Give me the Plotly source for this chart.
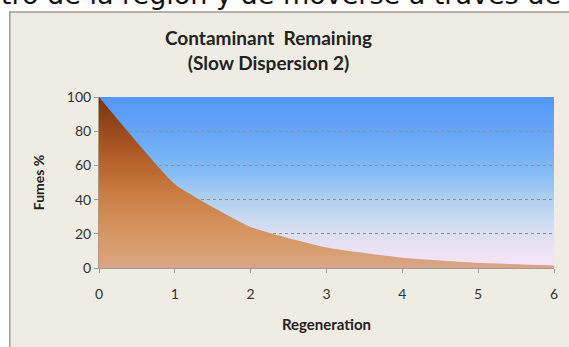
import base64
import plotly.graph_objects as go

# Contaminant remaining after each regeneration cycle
regeneration = [0, 1, 2, 3, 4, 5, 6]
fumes_pct = [100, 49, 24, 12, 6, 3, 1.5]
y_ticks = [0, 20, 40, 60, 80, 100]

FONT = "Lato"
W, H = 569, 347
L, R, T, B = 99, 11, 97, 79
PW, PH = W - L - R, H - T - B


def px_x(px):
    return (px - L) / PW


def px_y(py):
    return (H - B - py) / PH


# Sky-style gradient for the plotting area (blue on top, pale pink at the base)
bg_svg = (
    "<svg xmlns='http://www.w3.org/2000/svg' width='100' height='100' "
    "viewBox='0 0 100 100' preserveAspectRatio='none'>"
    "<defs><linearGradient id='g' x1='0' y1='0' x2='0' y2='1'>"
    "<stop offset='0' stop-color='#5597f8'/>"
    "<stop offset='0.25' stop-color='#6aaaf8'/>"
    "<stop offset='0.45' stop-color='#86bdf6'/>"
    "<stop offset='0.62' stop-color='#b4d3ee'/>"
    "<stop offset='0.8' stop-color='#dde0f2'/>"
    "<stop offset='1' stop-color='#f8e4f6'/>"
    "</linearGradient></defs>"
    "<rect width='100' height='100' fill='url(#g)'/></svg>"
)
bg_uri = "data:image/svg+xml;base64," + base64.b64encode(bg_svg.encode()).decode()

fig = go.Figure()
fig.add_trace(
    go.Scatter(
        x=regeneration,
        y=fumes_pct,
        mode="lines",
        line=dict(shape="spline", smoothing=0.4, width=0, color="#b8612a"),
        fill="tozeroy",
        fillgradient=dict(
            type="vertical",
            start=0,
            stop=100,
            colorscale=[
                [0.0, "#d8a48c"],
                [0.05, "#d9a37a"],
                [0.25, "#d6925c"],
                [0.45, "#c97a40"],
                [0.65, "#b35d27"],
                [0.85, "#94441a"],
                [1.0, "#7a3210"],
            ],
        ),
        hoverinfo="x+y",
        showlegend=False,
    )
)

fig.update_layout(
    width=W,
    height=H,
    margin=dict(l=L, r=R, t=T, b=B),
    paper_bgcolor="white",
    plot_bgcolor="rgba(0,0,0,0)",
    font=dict(family=FONT, size=14, color="#333333"),
    images=[
        dict(
            source=bg_uri,
            xref="x",
            yref="y",
            x=0,
            y=100,
            sizex=6,
            sizey=100,
            sizing="stretch",
            layer="below",
        )
    ],
    shapes=[
        # chart frame
        dict(
            type="rect",
            xref="paper",
            yref="paper",
            x0=px_x(9),
            x1=px_x(580),
            y0=px_y(360),
            y1=px_y(12),
            fillcolor="#efede3",
            line=dict(color="#9a9a96", width=1.5),
            layer="below",
        )
    ],
    annotations=[
        dict(
            text="<b>Contaminant  Remaining</b><br><b>(Slow Dispersion 2)</b>",
            xref="paper",
            yref="paper",
            x=px_x(270),
            y=px_y(50),
            xanchor="center",
            yanchor="middle",
            showarrow=False,
            font=dict(family=FONT, size=19, color="#222222"),
            align="center",
        ),
        dict(
            text="dentro de la región y de moverse a través de",
            xref="paper",
            yref="paper",
            x=px_x(-53),
            y=px_y(-6),
            xanchor="left",
            yanchor="middle",
            showarrow=False,
            font=dict(family="DejaVu Sans", size=27, color="#111111"),
        ),
    ],
)

fig.update_xaxes(
    range=[0, 6],
    tickvals=regeneration,
    ticks="outside",
    ticklen=4,
    tickcolor="#a09890",
    showline=True,
    linecolor="#a89888",
    linewidth=1,
    showgrid=False,
    zeroline=False,
    ticklabelstandoff=9,
    tickfont=dict(size=14),
    title=dict(text="<b>Regeneration</b>", font=dict(size=15, color="#222222"), standoff=18),
)
fig.update_yaxes(
    range=[0, 100],
    tickvals=y_ticks,
    ticks="outside",
    ticklen=4,
    tickcolor="#a09890",
    showline=True,
    linecolor="#a89888",
    linewidth=1,
    showgrid=True,
    gridcolor="#8c8c98",
    griddash="dot",
    gridwidth=1,
    zeroline=False,
    tickfont=dict(size=14),
    title=dict(text="<b>Fumes %</b>", font=dict(size=14, color="#222222"), standoff=18),
)

fig.write_html("out.html")
